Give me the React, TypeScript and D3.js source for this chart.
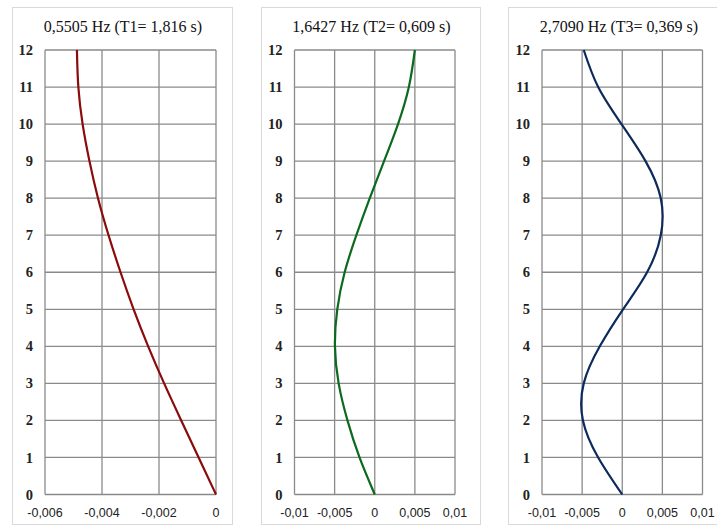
import * as d3 from "d3";

// storey heights (m) shared by all three mode shapes
const heights = [0, 1, 2, 3, 4, 5, 6, 7, 8, 9, 10, 11, 12];

// mode shape displacements
const mode1 = [0, -0.00061, -0.00122, -0.00182, -0.00238, -0.00289, -0.00335, -0.00377, -0.00414, -0.00444, -0.00468, -0.00483, -0.00488];
const mode2 = [0, -0.0019, -0.0034, -0.0045, -0.00496, -0.00467, -0.00375, -0.00229, -0.00062, 0.00116, 0.0029, 0.00425, 0.005];
const mode3 = [0, -0.003, -0.0049, -0.0048, -0.0028, 0.0001, 0.0031, 0.0048, 0.0048, 0.0029, -0.0001, -0.003, -0.0048];

const titles = ["0,5505 Hz (T1= 1,816 s)", "1,6427 Hz (T2= 0,609 s)", "2,7090 Hz (T3= 0,369 s)"];
const xTicks1 = [-0.006, -0.004, -0.002, 0];
const xTicks23 = [-0.01, -0.005, 0, 0.005, 0.01];
const yTicks = d3.range(0, 13, 1);
const colors = ["#8b0a0a", "#0b6a1e", "#0d2a5c"];

const W = 717;
const H = 527;

const fmt = (v: number) => (v === 0 ? "0" : String(v).replace(".", ","));

const panels = [
  { title: titles[0], values: mode1, ticks: xTicks1, domain: [-0.006, 0], frame: [12, 232], plot: [45, 216], color: colors[0] },
  { title: titles[1], values: mode2, ticks: xTicks23, domain: [-0.01, 0.01], frame: [261, 480], plot: [294.5, 455], color: colors[1] },
  { title: titles[2], values: mode3, ticks: xTicks23, domain: [-0.01, 0.01], frame: [508, 728], plot: [542, 702.5], color: colors[2] },
];

const Panel = ({ p }: { p: (typeof panels)[number] }) => {
  const x = d3.scaleLinear().domain(p.domain).range(p.plot);
  const y = d3.scaleLinear().domain([0, 12]).range([494.5, 50]);

  // y is evenly spaced, so natural spline ~ smooth x(h)
  const line = d3
    .line<number>()
    .x((d) => x(d))
    .y((d, i) => y(heights[i]))
    .curve(d3.curveNatural);

  const grid = "#8a8a8a";

  return (
    <g>
      {/* frame */}
      <rect
        x={p.frame[0] + 0.5}
        y={7.5}
        width={p.frame[1] - p.frame[0]}
        height={517}
        fill="#fff"
        stroke="#d9d9d9"
      />
      <text
        x={(p.frame[0] + p.frame[1]) / 2 + 1}
        y={32}
        textAnchor="middle"
        fontFamily="'Liberation Serif', serif"
        fontSize={16}
        fill="#111"
      >
        {p.title}
      </text>

      {/* grid */}
      {yTicks.map((t) => (
        <line key={"h" + t} x1={p.plot[0]} x2={p.plot[1]} y1={y(t)} y2={y(t)} stroke={grid} strokeWidth={1.3} />
      ))}
      {p.ticks.map((t) => (
        <line key={"v" + t} x1={x(t)} x2={x(t)} y1={y(0)} y2={y(12)} stroke={grid} strokeWidth={1.3} />
      ))}

      {/* y tick labels */}
      {yTicks.map((t) => (
        <text
          key={"yl" + t}
          x={p.plot[0] - 12}
          y={y(t)}
          dy="0.35em"
          textAnchor="end"
          fontFamily="'Liberation Serif', serif"
          fontWeight="bold"
          fontSize={14.5}
          fill="#222"
        >
          {t}
        </text>
      ))}

      {/* x tick labels */}
      {p.ticks.map((t) => (
        <text
          key={"xl" + t}
          x={x(t)}
          y={517}
          textAnchor="middle"
          fontFamily="'Liberation Sans', sans-serif"
          fontSize={12.5}
          fill="#222"
        >
          {fmt(t)}
        </text>
      ))}

      <path d={line(p.values) ?? ""} fill="none" stroke={p.color} strokeWidth={2.2} />
    </g>
  );
};

export default function App() {
  return (
    <svg width={W} height={H} style={{ position: "absolute", left: 0, top: 0, background: "#fff" }}>
      {panels.map((p, i) => (
        <Panel key={i} p={p} />
      ))}
    </svg>
  );
}
